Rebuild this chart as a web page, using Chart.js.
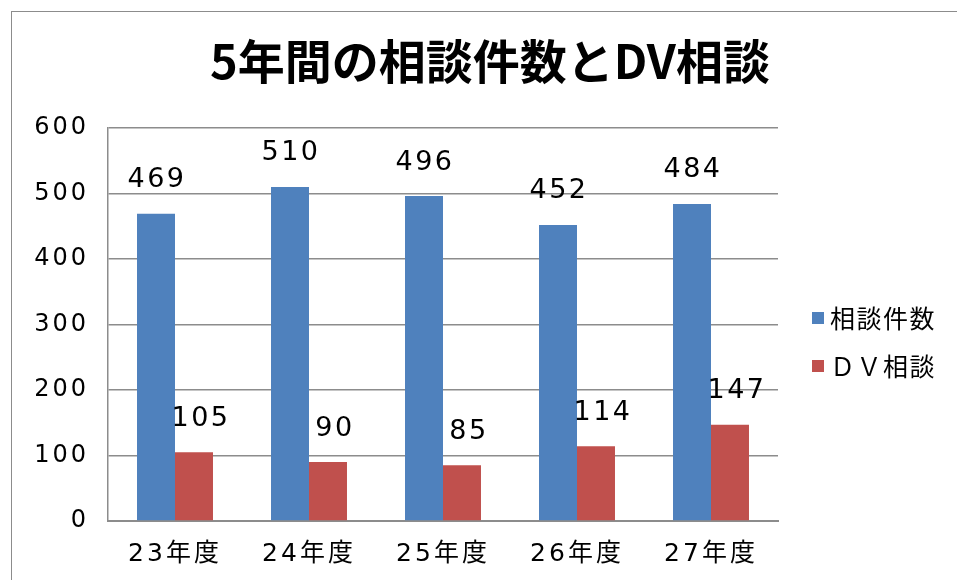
<!DOCTYPE html>
<html>
<head>
<meta charset="utf-8">
<script src="https://cdn.jsdelivr.net/npm/chart.js@4"></script>
<style>
  html, body { margin: 0; padding: 0; background: #fff; }
  #wrap { position: relative; width: 957px; height: 580px; overflow: hidden; }
  #frame { position: absolute; left: 11px; top: 11px; width: 2000px; height: 2000px;
           border-left: 1.5px solid #8c8c8c; border-top: 1.5px solid #8c8c8c; }
  canvas { position: absolute; left: 0; top: 0; }
</style>
</head>
<body>
<div id="wrap">
  <div id="frame"></div>
  <canvas id="c" width="957" height="580"></canvas>
</div>
<script>
const TITLE = '5年間の相談件数とDV相談';
const categories = ['23年度', '24年度', '25年度', '26年度', '27年度'];
const seriesNames = ['相談件数', 'ＤＶ相談'];
const totalConsults = [469, 510, 496, 452, 484];
const dvConsults = [105, 90, 85, 114, 147];
const yTicks = [0, 100, 200, 300, 400, 500, 600];
const colors = ['#4F81BD', '#C0504D'];

const FONT = "'DejaVu Sans', 'Noto Sans CJK JP', sans-serif";
const GRID = '#8c8c8c';

const spacingPlugin = {
  id: 'spacing',
  beforeDraw(chart) { chart.ctx.letterSpacing = '3px'; }
};

const titlePlugin = {
  id: 'customTitle',
  afterDraw(chart) {
    const ctx = chart.ctx;
    ctx.save();
    ctx.letterSpacing = '0px';
    ctx.font = "bold 47px 'Noto Sans CJK JP', sans-serif";
    ctx.fillStyle = '#000';
    ctx.textAlign = 'center';
    ctx.textBaseline = 'middle';
    ctx.fillText(TITLE, 490, 61);
    ctx.restore();
  }
};

const labelPlugin = {
  id: 'valueLabels',
  afterDatasetsDraw(chart) {
    const ctx = chart.ctx;
    ctx.save();
    ctx.letterSpacing = '2.5px';
    ctx.font = "27px " + FONT;
    ctx.fillStyle = '#000';
    ctx.textAlign = 'center';
    ctx.textBaseline = 'bottom';
    chart.data.datasets.forEach((ds, i) => {
      const meta = chart.getDatasetMeta(i);
      meta.data.forEach((el, j) => {
        ctx.fillText(String(ds.data[j]), el.x + (i === 1 ? 7 : 1), el.y - 20);
      });
    });
    ctx.restore();
  }
};

const legendPlugin = {
  id: 'customLegend',
  afterDraw(chart) {
    const ctx = chart.ctx;
    ctx.save();
    ctx.letterSpacing = '1.5px';
    ctx.font = "25px 'Noto Sans CJK JP', sans-serif";
    ctx.textBaseline = 'middle';
    ctx.textAlign = 'left';
    const ys = [318, 366];
    chart.data.datasets.forEach((ds, i) => {
      ctx.fillStyle = ds.backgroundColor;
      ctx.fillRect(812, ys[i] - 6, 12, 12);
      ctx.fillStyle = '#000';
      ctx.fillText(ds.label, 830, ys[i]);
    });
    ctx.restore();
  }
};

new Chart(document.getElementById('c'), {
  type: 'bar',
  data: {
    labels: categories,
    datasets: [
      { label: seriesNames[0], data: totalConsults, backgroundColor: colors[0] },
      { label: seriesNames[1], data: dvConsults, backgroundColor: colors[1] }
    ]
  },
  options: {
    responsive: false,
    animation: false,
    devicePixelRatio: 1,
    layout: { padding: { top: 128, right: 179, bottom: 0, left: 0 } },
    datasets: { bar: { categoryPercentage: 0.567, barPercentage: 1.0 } },
    plugins: {
      legend: { display: false },
      title: { display: false },
      tooltip: { enabled: false }
    },
    scales: {
      x: {
        grid: { display: true, drawOnChartArea: false, drawTicks: false },
        border: { display: true, color: GRID, width: 2 },
        ticks: { color: '#000', font: { family: FONT, size: 25 }, padding: 18 },
        afterFit(scale) { scale.height = 59; }
      },
      y: {
        min: 0, max: 600,
        afterBuildTicks(scale) { scale.ticks = yTicks.map(v => ({ value: v })); },
        grid: { color: GRID, lineWidth: 1.5, drawTicks: false },
        border: { display: true, color: GRID, width: 1.5 },
        ticks: { color: '#000', font: { family: FONT, size: 24 }, padding: 19 },
        afterFit(scale) { scale.width = 108; }
      }
    }
  },
  plugins: [spacingPlugin, titlePlugin, labelPlugin, legendPlugin]
});
</script>
</body>
</html>
